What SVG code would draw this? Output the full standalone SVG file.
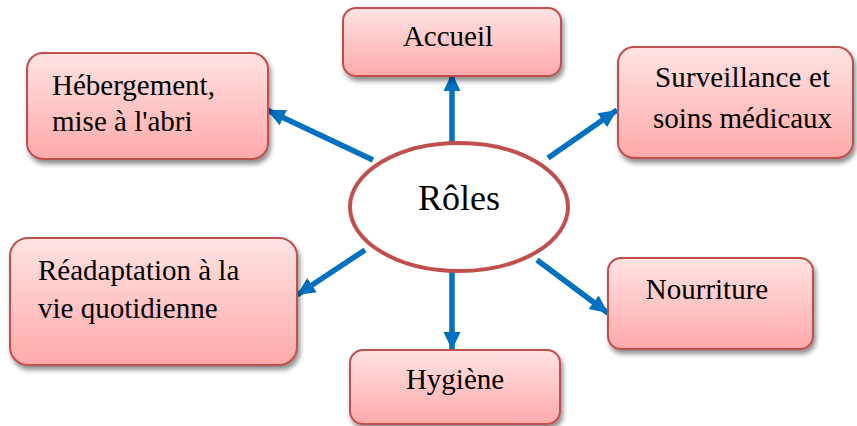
<svg xmlns="http://www.w3.org/2000/svg" width="857" height="426" viewBox="0 0 857 426">
<defs>
<linearGradient id="g" x1="0" y1="0" x2="0" y2="1">
<stop offset="0" stop-color="#FFE3E3"/>
<stop offset="1" stop-color="#FFA9A9"/>
</linearGradient>
<filter id="sh" x="-10%" y="-10%" width="125%" height="130%">
<feGaussianBlur in="SourceAlpha" stdDeviation="2.5"/>
<feOffset dx="2" dy="4" result="b"/>
<feComponentTransfer><feFuncA type="linear" slope="0.45"/></feComponentTransfer>
<feMerge><feMergeNode/><feMergeNode in="SourceGraphic"/></feMerge>
</filter>
<marker id="ah" markerUnits="userSpaceOnUse" markerWidth="20" markerHeight="20" viewBox="0 0 20 20" refX="18" refY="10" orient="auto">
<path d="M0,1.5 L18,10 L0,18.5 Z" fill="#0070C0"/>
</marker>
</defs>
<style>
.box{fill:url(#g);stroke:#C0504D;stroke-width:2;filter:url(#sh)}
.t{font-family:"Liberation Serif","Times New Roman",serif;font-size:29px;fill:#000}
.c{stroke:#0070C0;stroke-width:5.5;fill:none;marker-end:url(#ah)}
</style>
<rect width="857" height="426" fill="#fff"/>
<g id="connectors">
<line class="c" x1="452" y1="145" x2="452" y2="73"/>
<line class="c" x1="373" y1="160" x2="267" y2="110"/>
<line class="c" x1="548" y1="158" x2="617" y2="110"/>
<line class="c" x1="365" y1="250" x2="297" y2="295"/>
<line class="c" x1="452" y1="268" x2="452" y2="350"/>
<line class="c" x1="537" y1="260" x2="608" y2="313"/>
</g>
<g id="roles">
<ellipse cx="459" cy="207" rx="109" ry="64" fill="#fff" stroke="#C0504D" stroke-width="4"/>
<text class="t" x="459" y="210" font-size="36" text-anchor="middle" style="font-size:36px">Rôles</text>
</g>
<g id="accueil">
<rect class="box" x="343" y="8" width="218" height="68" rx="13"/>
<text class="t" x="448" y="46" text-anchor="middle">Accueil</text>
</g>
<g id="hebergement">
<rect class="box" x="27" y="53" width="241" height="106" rx="16"/>
<text class="t" x="52" y="95">Hébergement,</text>
<text class="t" x="52" y="131">mise à l'abri</text>
</g>
<g id="surveillance">
<rect class="box" x="618" y="47" width="235" height="111" rx="16"/>
<text class="t" x="655" y="87" textLength="175" lengthAdjust="spacing">Surveillance et</text>
<text class="t" x="653" y="128" textLength="179" lengthAdjust="spacing">soins médicaux</text>
</g>
<g id="readaptation">
<rect class="box" x="10" y="238" width="287" height="127" rx="18"/>
<text class="t" x="38" y="280">Réadaptation à la</text>
<text class="t" x="38" y="318">vie quotidienne</text>
</g>
<g id="hygiene">
<rect class="box" x="350" y="350" width="210" height="74" rx="13"/>
<text class="t" x="455" y="389" text-anchor="middle">Hygiène</text>
</g>
<g id="nourriture">
<rect class="box" x="608" y="258" width="205" height="91" rx="13"/>
<text class="t" x="707" y="299" text-anchor="middle">Nourriture</text>
</g>
</svg>
